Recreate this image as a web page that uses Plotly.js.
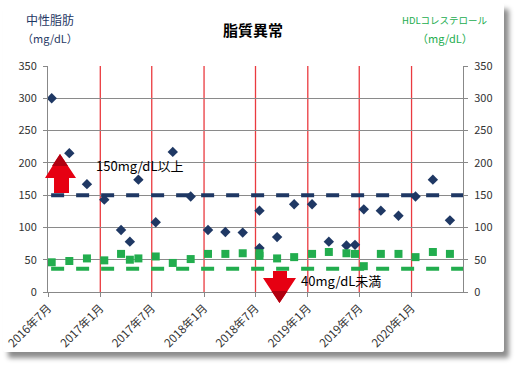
<!DOCTYPE html>
<html>
<head>
<meta charset="utf-8">
<script src="https://cdn.plot.ly/plotly-3.0.1.min.js"></script>
<style>
html,body{margin:0;padding:0;background:#ffffff;width:518px;height:371px;overflow:hidden;}
#frame{position:absolute;left:3px;top:3px;width:501px;height:349px;background:#fff;box-shadow:5px 6px 5px rgba(0,0,0,0.45);border-radius:2px;}
#chart{position:absolute;left:0;top:0;width:518px;height:371px;}
</style>
</head>
<body>
<div id="frame"></div>
<div id="chart"></div>
<script>
// ---- data ----
const tgDates = ["2016-07-14","2016-09-14","2016-11-15","2017-01-15","2017-03-15","2017-04-15","2017-05-15","2017-07-15","2017-09-13","2017-11-15","2018-01-15","2018-03-17","2018-05-17","2018-07-15","2018-07-15","2018-09-15","2018-11-14","2019-01-16","2019-03-16","2019-05-17","2019-06-16","2019-07-17","2019-09-15","2019-11-16","2020-01-15","2020-03-16","2020-05-15"];
const tgValues = [300,215,167,143,96,78,174,108,217,148,96,93,92,126,68,85,136,136,78,72,73,128,126,118,148,174,111];
const hdlDates = ["2016-07-14","2016-09-14","2016-11-15","2017-01-15","2017-03-15","2017-04-15","2017-05-15","2017-07-15","2017-09-13","2017-11-15","2018-01-15","2018-03-17","2018-05-17","2018-07-15","2018-07-15","2018-09-15","2018-11-14","2019-01-16","2019-03-16","2019-05-17","2019-06-16","2019-07-17","2019-09-15","2019-11-16","2020-01-15","2020-03-16","2020-05-15"];
const hdlValues = [46,48,52,49,59,50,52,55,45,51,59,59,60,60,56,52,54,59,62,60,59,40,59,59,54,62,59];
const limitDates = ["2016-07-12","2020-06-30"];
const tgLimit = [150,150];
const hdlLimit = [36,36];
const xRange = ["2016-07-01","2020-06-30"];
const xTickDates = ["2016-07-01","2017-01-01","2017-07-01","2018-01-01","2018-07-01","2019-01-01","2019-07-01","2020-01-01"];
const xTickLabels = ["2016年7月","2017年1月","2017年7月","2018年1月","2018年7月","2019年1月","2019年7月","2020年1月"];
const yTicks = [0,50,100,150,200,250,300,350];
const titleText = "脂質異常";
const leftTitle = ["中性脂肪","（mg/dL）"];
const rightTitle = ["HDLコレステロール","（mg/dL）"];
const upLabel = "150mg/dL以上";
const downLabel = "40mg/dL未満";

// ---- layout helpers (pixel -> paper) ----
const W=518,H=371, L=48, R=55, T=66, B=79;
const pw=W-L-R, ph=H-T-B;
const px=x=>(x-L)/pw, py=y=>(H-B-y)/ph;
function path(pts){return pts.map((p,i)=>(i?'L':'M')+px(p[0]).toFixed(4)+','+py(p[1]).toFixed(4)).join(' ')+' Z';}

const FONT="'Noto Sans CJK JP', 'Noto Sans', sans-serif";
const navy="#1f3864", green="#22ad4e", red="#ea3a3f";

const traces=[
 {x:limitDates,y:tgLimit,type:'scatter',mode:'lines',line:{color:navy,width:4,dash:'13px,12px'},hoverinfo:'skip',yaxis:'y'},
 {x:limitDates,y:hdlLimit,type:'scatter',mode:'lines',line:{color:green,width:4,dash:'13px,12px'},hoverinfo:'skip',yaxis:'y2'},
 {x:tgDates,y:tgValues,type:'scatter',mode:'markers',marker:{symbol:'diamond',size:8,color:navy},yaxis:'y'},
 {x:hdlDates,y:hdlValues,type:'scatter',mode:'markers',marker:{symbol:'square',size:8,color:green},yaxis:'y2'}
];

// red vertical gridlines at the 6-month ticks (skip the first, which is the axis line)
const vlines = xTickDates.slice(1).map(d=>({type:'line',xref:'x',yref:'paper',x0:d,x1:d,y0:0,y1:1,layer:'below',line:{color:red,width:1.3}}));

const axFont={family:FONT,size:11,color:'#333'};
const layout={
 width:W,height:H,
 margin:{l:L,r:R,t:T,b:B,pad:0},
 paper_bgcolor:'rgba(0,0,0,0)',plot_bgcolor:'rgba(0,0,0,0)',
 showlegend:false,
 font:{family:FONT},
 xaxis:{type:'date',range:xRange,tickmode:'array',tickvals:xTickDates,ticktext:xTickLabels,tickangle:-45,
   showgrid:false,showline:true,linecolor:'#888',linewidth:1,
   ticks:'outside',ticklen:4,tickcolor:'#888',tickfont:{family:FONT,size:11.5,color:'#333'},zeroline:false},
 yaxis:{range:[0,350],tickvals:yTicks,showgrid:true,gridcolor:'#8a8a8a',gridwidth:1,showline:true,linecolor:'#888',
   ticks:'outside',ticklen:4,tickcolor:'#888',tickfont:axFont,zeroline:false,ticklabelstandoff:4},
 yaxis2:{range:[0,350],tickvals:yTicks,overlaying:'y',side:'right',showgrid:false,showline:true,linecolor:'#888',
   ticks:'outside',ticklen:4,tickcolor:'#888',tickfont:axFont,zeroline:false,ticklabelstandoff:4},
 annotations:[
  {xref:'paper',yref:'paper',x:px(253),y:py(30),text:'<b>'+titleText+'</b>',showarrow:false,font:{size:15,color:'#000',family:FONT},xanchor:'center',yanchor:'middle'},
  {xref:'paper',yref:'paper',x:px(50),y:py(20),text:leftTitle[0],showarrow:false,font:{size:12,color:navy,family:FONT},xanchor:'center',yanchor:'middle'},
  {xref:'paper',yref:'paper',x:px(50),y:py(38),text:leftTitle[1],showarrow:false,font:{size:11,color:navy,family:FONT},xanchor:'center',yanchor:'middle'},
  {xref:'paper',yref:'paper',x:px(445),y:py(20),text:rightTitle[0],showarrow:false,font:{size:9.5,color:green,family:FONT},xanchor:'center',yanchor:'middle'},
  {xref:'paper',yref:'paper',x:px(445),y:py(38),text:rightTitle[1],showarrow:false,font:{size:11,color:green,family:FONT},xanchor:'center',yanchor:'middle'},
  {xref:'paper',yref:'paper',x:px(94),y:py(165),text:upLabel,showarrow:false,font:{size:13,color:'#000',family:FONT},xanchor:'left',yanchor:'middle'},
  {xref:'paper',yref:'paper',x:px(299),y:py(280),text:downLabel,showarrow:false,font:{size:13,color:'#000',family:FONT},xanchor:'left',yanchor:'middle'}
 ],
 shapes:vlines.concat([
  {type:'path',xref:'paper',yref:'paper',layer:'above',line:{width:0},fillcolor:'#e60012',
   path:path([[60,154],[76,178],[69,178],[69,193],[54,193],[54,178],[45,178]])},
  {type:'path',xref:'paper',yref:'paper',layer:'above',line:{width:0},fillcolor:'#b00010',
   path:path([[60,154],[68,166],[52,166]])},
  {type:'path',xref:'paper',yref:'paper',layer:'above',line:{width:0},fillcolor:'#e60012',
   path:path([[273,271],[287,271],[287,278],[296,278],[279.5,303],[263,278],[273,278]])},
  {type:'path',xref:'paper',yref:'paper',layer:'above',line:{width:0},fillcolor:'#b00010',
   path:path([[279.5,303],[287.5,291],[271.5,291]])}
 ])
};
Plotly.newPlot('chart',traces,layout,{staticPlot:true,displayModeBar:false});
</script>
</body>
</html>
